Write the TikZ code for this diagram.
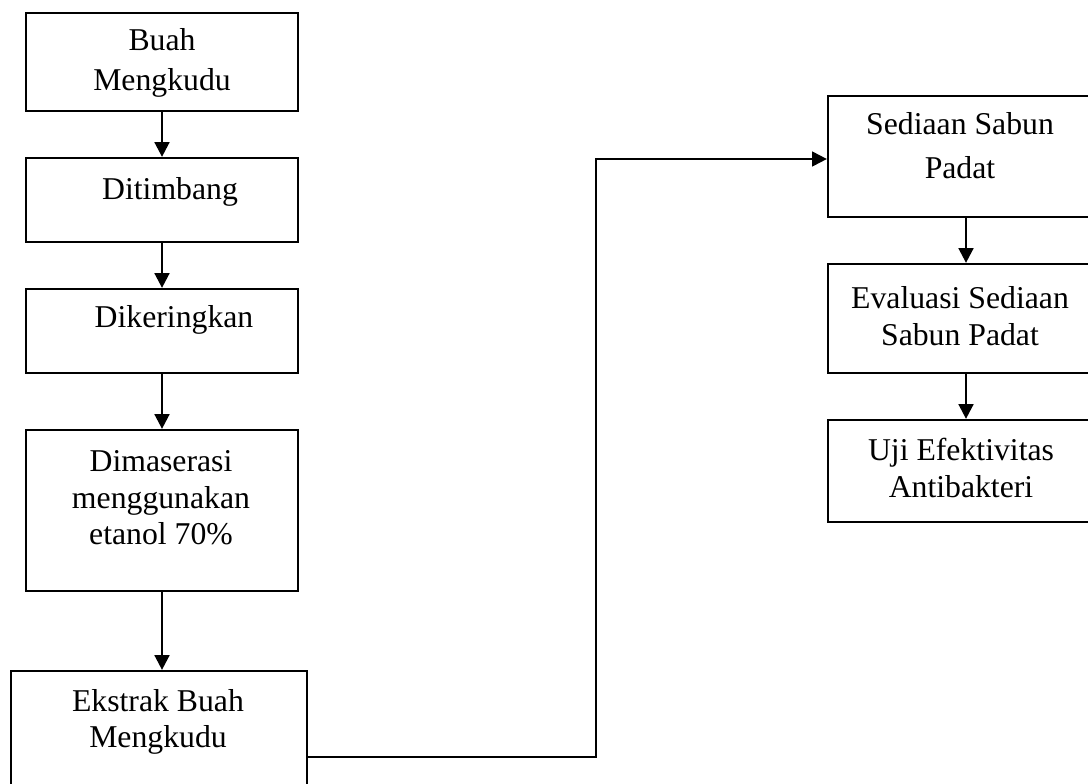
\documentclass[tikz,border=0pt]{standalone}
\usepackage{fontspec}
\setmainfont{Liberation Serif}
\usetikzlibrary{arrows.meta}
\begin{document}
\begin{tikzpicture}[x=0.75pt,y=-0.75pt,
  box/.style={draw,line width=1.7pt,rectangle,inner sep=0pt},
  lbl/.style={align=center,inner sep=0pt,font=\fontsize{23.8pt}{27.4pt}\selectfont},
  arr/.style={line width=1.9pt,-{Triangle[length=11pt,width=11pt]}},
  link/.style={line width=1.6pt,-{Triangle[length=11pt,width=11pt]}}]
\useasboundingbox (0,0) rectangle (1088,783);
\fill[white] (0,0) rectangle (1088,783);
\clip (0,0) rectangle (1088,783);
% boxes
\node[box,minimum width=204pt,minimum height=73.5pt] (b1) at (162,62) {};
\node[box,minimum width=204pt,minimum height=63pt] (b2) at (162,200) {};
\node[box,minimum width=204pt,minimum height=63pt] (b3) at (162,331) {};
\node[box,minimum width=204pt,minimum height=120.75pt] (b4) at (162,510.5) {};
\node[box,minimum width=222pt,minimum height=129pt] (b5) at (159,757) {};
\node[box,minimum width=207pt,minimum height=90.75pt] (s1) at (966,156.5) {};
\node[box,minimum width=207pt,minimum height=81.75pt] (s2) at (966,318.5) {};
\node[box,minimum width=207pt,minimum height=76.5pt] (s3) at (966,471) {};
% texts
\node[lbl] (t1) at (162,63) {Buah\\[2.5pt]Mengkudu};
\node[lbl] (t2) at (170,192) {Ditimbang};
\node[lbl] (t3) at (174,320) {Dikeringkan};
\node[lbl] (t4) at (161,498) {Dimaserasi\\menggunakan\\etanol 70\%};
\node[lbl] (t5) at (158,722) {Ekstrak Buah\\Mengkudu};
\node[lbl] (t6) at (960,146) {Sediaan Sabun\\[5.6pt]Padat};
\node[lbl] (t7) at (960,316) {Evaluasi Sediaan\\Sabun Padat};
\node[lbl] (t8) at (961,468) {Uji Efektivitas\\Antibakteri};
% connectors
\draw[arr] (b1.south) -- (b2.north);
\draw[arr] (b2.south) -- (b3.north);
\draw[arr] (b3.south) -- (b4.north);
\draw[arr] (b4.south) -- (b4.south |- b5.north);
\coordinate (k1) at (596,757);
\coordinate (k2) at (596,159);
\draw[link] (b5.east) -- (k1) -- (k2) -- (s1.west |- k2);
\draw[arr] (s1.south) -- (s2.north);
\draw[arr] (s2.south) -- (s3.north);
\end{tikzpicture}
\end{document}
